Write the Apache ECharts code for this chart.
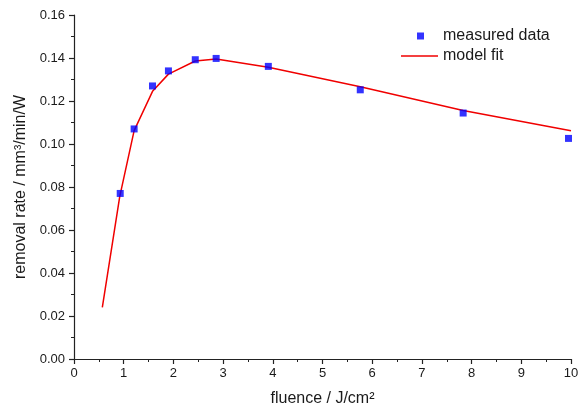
<!DOCTYPE html>
<html>
<head>
<meta charset="utf-8">
<script src="https://cdn.jsdelivr.net/npm/echarts@6/dist/echarts.min.js"></script>
<style>html,body{margin:0;padding:0;background:#fff}#c{width:583px;height:412px}</style>
</head>
<body>
<div id="c"></div>
<script>
var measuredX = [0.93, 1.21, 1.58, 1.90, 2.44, 2.86, 3.91, 5.76, 7.83, 9.95];
var measuredY = [0.077, 0.107, 0.127, 0.134, 0.1392, 0.1398, 0.1361, 0.1252, 0.1144, 0.1026];
var fitX = [0.57, 0.92, 1.21, 1.58, 1.90, 2.44, 2.86, 3.91, 5.76, 7.83, 10.0];
var fitY = [0.024, 0.0755, 0.1062, 0.1245, 0.1325, 0.1386, 0.1395, 0.1357, 0.1266, 0.1156, 0.1062];
var xTicks = [0, 1, 2, 3, 4, 5, 6, 7, 8, 9, 10];
var yTicks = [0.00, 0.02, 0.04, 0.06, 0.08, 0.10, 0.12, 0.14, 0.16];

var font = 'Liberation Sans, Arial, sans-serif';
var txt = '#1a1a1a';
var chart = echarts.init(document.getElementById('c'), null, {renderer: 'canvas'});
var axisCommon = {
  axisLine: {show: true, lineStyle: {color: '#222', width: 1.2}},
  axisTick: {show: true, inside: false, length: 5, lineStyle: {color: '#222', width: 1.2}},
  minorTick: {show: true, splitNumber: 2, length: 3, lineStyle: {color: '#222', width: 1}},
  splitLine: {show: false},
  nameLocation: 'middle',
  nameTextStyle: {fontFamily: font, fontSize: 16, color: txt}
};
chart.setOption({
  animation: false,
  backgroundColor: '#fff',
  grid: {left: 74, right: 12, top: 15, bottom: 50, containLabel: false},
  legend: [{
    left: 417, top: 26, orient: 'vertical', padding: 0,
    itemWidth: 7, itemHeight: 7,
    data: [{name: 'measured data', icon: 'rect'}],
    textStyle: {fontFamily: font, fontSize: 16, color: txt, lineHeight: 20, padding: [0, 0, 0, 14]}
  }, {
    left: 401, top: 46, orient: 'vertical', padding: 0,
    itemWidth: 37, itemHeight: 7,
    data: [{name: 'model fit', icon: 'path://M0,0H40V1.6H0Z'}],
    textStyle: {fontFamily: font, fontSize: 16, color: txt, lineHeight: 20}
  }],
  xAxis: Object.assign({}, axisCommon, {
    type: 'value', min: xTicks[0], max: xTicks[xTicks.length - 1], interval: 1,
    name: 'fluence / J/cm²', nameGap: 32,
    axisLabel: {fontFamily: font, fontSize: 13, color: txt, margin: 8}
  }),
  yAxis: Object.assign({}, axisCommon, {
    type: 'value', min: yTicks[0], max: yTicks[yTicks.length - 1], interval: 0.02,
    name: 'removal rate / mm³/min/W', nameGap: 44,
    axisLabel: {fontFamily: font, fontSize: 13, color: txt, margin: 9,
      formatter: function (v) { return v.toFixed(2); }}
  }),
  series: [{
    name: 'model fit', type: 'line', symbol: 'none', z: 2,
    data: fitX.map(function (x, i) { return [x, fitY[i]]; }),
    lineStyle: {color: '#f00000', width: 1.5}, itemStyle: {color: '#f00000'}
  }, {
    name: 'measured data', type: 'scatter', symbol: 'rect', symbolSize: 7, z: 3,
    data: measuredX.map(function (x, i) { return [x, measuredY[i]]; }),
    itemStyle: {color: '#0000ff'}
  }]
});
</script>
</body>
</html>
